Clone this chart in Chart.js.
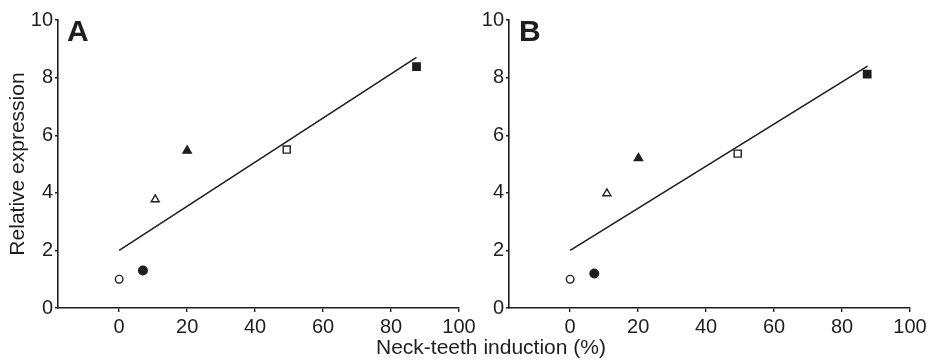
<!DOCTYPE html>
<html>
<head>
<meta charset="utf-8">
<script src="https://cdn.jsdelivr.net/npm/chart.js@4"></script>
<style>
    body { margin: 0; background: #fff; }
    #wrap { position: relative; width: 930px; height: 364px; font-family: "Liberation Sans", Arial, sans-serif; color: #1e1e1e; }
    canvas { position: absolute; top: 0; }
    #chart-a { left: 0; }
    #chart-b { left: 460px; }
    .panel-tag { position: absolute; top: 16px; font-size: 30px; font-weight: bold; line-height: 1; }
    #x-title { position: absolute; left: 376px; top: 336px; font-size: 21px; line-height: 1; white-space: nowrap; }
</style>
</head>
<body>
<div id="wrap">
    <canvas id="chart-a" width="480" height="364"></canvas>
    <canvas id="chart-b" width="470" height="364"></canvas>
    <div class="panel-tag" style="left:67px">A</div>
    <div class="panel-tag" style="left:519px">B</div>
    <div id="x-title">Neck-teeth induction (%)</div>
</div>
<script>
// Induccion de dientes (%) y expresion relativa por grupo
const inductionA = [0, 7, 10.6, 20, 49.3, 87.5];
const expressionA = [1.0, 1.3, 3.77, 5.46, 5.5, 8.38];
const inductionB = [0, 7.1, 10.8, 20.1, 49.3, 87.4];
const expressionB = [1.0, 1.2, 3.98, 5.2, 5.36, 8.12];

// Recta de ajuste: extremos
const fitA = [[0, 2.0], [87.5, 8.7]];
const fitB = [[0, 2.0], [87.5, 8.4]];

// Marcadores: forma y relleno de cada grupo
const markerStyles = ['circle', 'circle', 'triangle', 'triangle', 'rect', 'rect'];
const markerFilled = [false, true, false, true, false, true];
const markerRadius = [3.8, 4.3, 4.6, 4.8, 5, 5.2];

const xTicks = [0, 20, 40, 60, 80, 100];
const yTicks = [0, 2, 4, 6, 8, 10];

const ink = '#1e1e1e';

function buildPanel(id, xs, ys, fit, padLeft, yAxisWidth, padRight, showYTitle) {
    const ctx = document.getElementById(id);

    const points = xs.map((x, i) => ({ x: x, y: ys[i] }));
    const line = fit.map(p => ({ x: p[0], y: p[1] }));

    new Chart(ctx, {
        type: 'scatter',
        data: {
            datasets: [{
                data: line,
                showLine: true,
                borderColor: ink,
                borderWidth: 1.6,
                pointRadius: 0,
                fill: false,
                order: 2
            }, {
                data: points,
                pointStyle: markerStyles,
                pointRadius: markerRadius,
                pointBackgroundColor: markerFilled.map(f => f ? ink : '#ffffff'),
                pointBorderColor: ink,
                pointBorderWidth: 1.4,
                order: 1
            }]
        },
        options: {
            responsive: false,
            animation: false,
            layout: {
                padding: { top: 20, right: padRight, left: padLeft, bottom: 0 }
            },
            plugins: {
                legend: { display: false },
                tooltip: { enabled: false }
            },
            scales: {
                x: {
                    type: 'linear',
                    min: -18,
                    max: 100,
                    afterBuildTicks: function(scale) {
                        scale.ticks = xTicks.map(v => ({ value: v }));
                    },
                    afterFit: function(scale) {
                        scale.height = 56;
                    },
                    border: { display: true, color: ink, width: 1.6 },
                    grid: {
                        drawOnChartArea: false,
                        drawTicks: true,
                        tickLength: 4,
                        color: ink,
                        lineWidth: 1.4
                    },
                    ticks: {
                        color: ink,
                        padding: 3,
                        maxRotation: 0,
                        font: { family: 'Liberation Sans', size: 20 }
                    }
                },
                y: {
                    type: 'linear',
                    min: 0,
                    max: 10,
                    afterBuildTicks: function(scale) {
                        scale.ticks = yTicks.map(v => ({ value: v }));
                    },
                    afterFit: function(scale) {
                        scale.width = yAxisWidth;
                    },
                    border: { display: true, color: ink, width: 1.6 },
                    grid: {
                        drawOnChartArea: false,
                        drawTicks: true,
                        tickLength: 3,
                        color: ink,
                        lineWidth: 1.4
                    },
                    ticks: {
                        color: ink,
                        padding: 2,
                        font: { family: 'Liberation Sans', size: 20 }
                    },
                    title: {
                        display: showYTitle,
                        text: 'Relative expression',
                        color: ink,
                        padding: { top: 0, bottom: 2 },
                        font: { family: 'Liberation Sans', size: 21 }
                    }
                }
            }
        }
    });
}

buildPanel('chart-a', inductionA, expressionA, fitA, 6, 52, 21, true);
buildPanel('chart-b', inductionB, expressionB, fitB, 0, 49, 20, false);
</script>
</body>
</html>
